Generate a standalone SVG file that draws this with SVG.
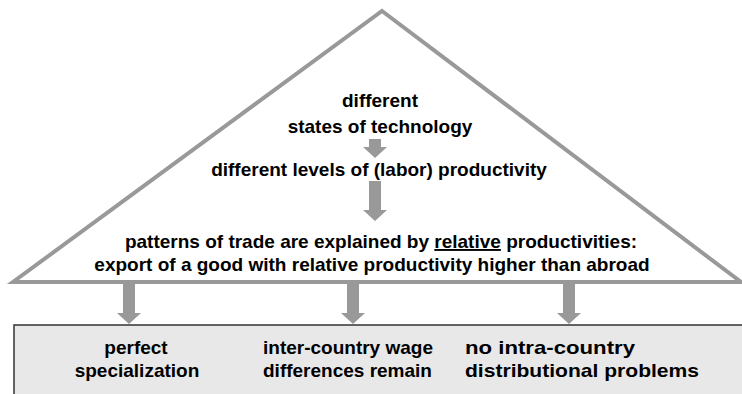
<svg xmlns="http://www.w3.org/2000/svg" width="742" height="394" viewBox="0 0 742 394">
<defs>
<style>
.t{font-family:"Liberation Sans",Arial,sans-serif;font-weight:bold;font-size:19px;fill:#000}
.m{text-anchor:middle}
.arr{fill:#999999}
</style>
</defs>
<rect width="742" height="394" fill="#ffffff"/>
<g id="box">
<rect x="14" y="325" width="740" height="80" fill="#e8e8e8" stroke="#333333" stroke-width="1.5"/>
</g>
<g id="pyramid">
<polygon points="382,11 741,282 13,282" fill="#ffffff" stroke="#999999" stroke-width="4" stroke-linejoin="miter"/>
</g>
<g id="connectors">
<path class="arr" d="M369,139 H381 V147 H387 L375,158 L363,147 H369 Z"/>
<path class="arr" d="M369,181 H381 V210 H387 L375,221 L363,210 H369 Z"/>
<path class="arr" d="M123,282 H135 V313 H141 L129,324 L117,313 H123 Z"/>
<path class="arr" d="M347,282 H359 V313 H365 L353,324 L341,313 H347 Z"/>
<path class="arr" d="M563,282 H575 V313 H581 L569,324 L557,313 H563 Z"/>
</g>
<g id="n1">
<text class="t m" x="380" y="107">different</text>
<text class="t m" x="380" y="133">states of technology</text>
</g>
<g id="n2">
<text class="t m" x="379" y="176">different levels of (labor) productivity</text>
</g>
<g id="n3">
<text class="t m" x="381" y="248">patterns of trade are explained by <tspan text-decoration="underline">relative</tspan> productivities:</text>
<text class="t m" x="372" y="271">export of a good with relative productivity higher than abroad</text>
</g>
<g id="b1">
<text class="t m" x="136" y="354">perfect</text>
<text class="t m" x="137" y="377">specialization</text>
</g>
<g id="b2">
<text class="t" x="263" y="354">inter-country wage</text>
<text class="t" x="263" y="377">differences remain</text>
</g>
<g id="b3">
<text class="t" x="465" y="354" textLength="170" lengthAdjust="spacingAndGlyphs">no intra-country</text>
<text class="t" x="465" y="377" textLength="234" lengthAdjust="spacingAndGlyphs">distributional problems</text>
</g>
</svg>
